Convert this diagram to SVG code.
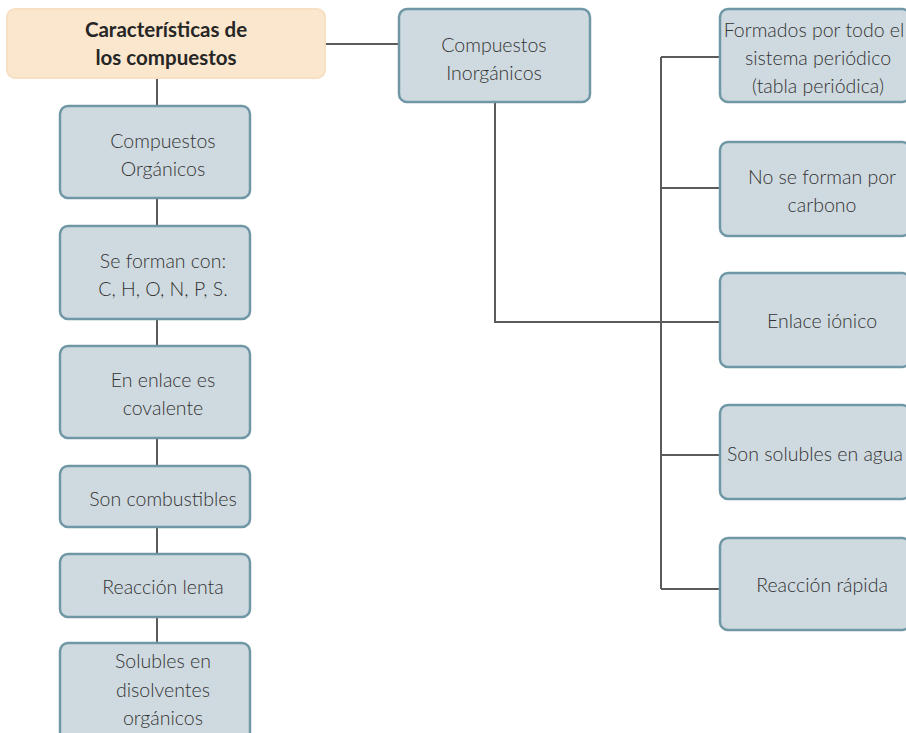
<svg xmlns="http://www.w3.org/2000/svg" width="906" height="733" viewBox="0 0 906 733">
<defs>
<style>
.box{fill:#cfdae0;stroke:#6f97a5;stroke-width:2.5}
.title{fill:#fbe7cd;stroke:#f6dfc3;stroke-width:2}
.t{font-family:Lato,"Open Sans","Liberation Sans",sans-serif;font-size:19.5px;font-weight:300;fill:#333;text-anchor:middle}
.tb{font-family:Lato,"Liberation Sans",sans-serif;font-size:20.5px;font-weight:700;fill:#262626;text-anchor:middle}
.c{stroke:#5b5b5b;stroke-width:2;fill:none}
</style>
</defs>
<g id="connectors">
<line class="c" x1="325" y1="44" x2="399" y2="44"/>
<line class="c" x1="157" y1="78" x2="157" y2="106"/>
<line class="c" x1="157" y1="198" x2="157" y2="226"/>
<line class="c" x1="157" y1="319" x2="157" y2="346"/>
<line class="c" x1="157" y1="438" x2="157" y2="466"/>
<line class="c" x1="157" y1="527" x2="157" y2="554"/>
<line class="c" x1="157" y1="617" x2="157" y2="643"/>
<polyline class="c" points="495,102 495,322 720,322"/>
<line class="c" x1="661" y1="57" x2="661" y2="589"/>
<line class="c" x1="661" y1="57" x2="720" y2="57"/>
<line class="c" x1="661" y1="188" x2="720" y2="188"/>
<line class="c" x1="661" y1="455" x2="720" y2="455"/>
<line class="c" x1="661" y1="589" x2="720" y2="589"/>
</g>
<g id="n-title">
<rect class="title" x="7" y="9" width="318" height="69" rx="8"/>
<text class="tb" x="166" y="37">Características de</text>
<text class="tb" x="166" y="65">los compuestos</text>
</g>
<g id="n-inorganicos">
<rect class="box" x="399" y="9" width="191" height="93" rx="8"/>
<text class="t" x="494" y="52">Compuestos</text>
<text class="t" x="494" y="80">Inorgánicos</text>
</g>
<g id="n-organicos">
<rect class="box" x="60" y="106" width="190" height="92" rx="8"/>
<text class="t" x="163" y="148">Compuestos</text>
<text class="t" x="163" y="176">Orgánicos</text>
</g>
<g id="n-seforman">
<rect class="box" x="60" y="226" width="190" height="93" rx="8"/>
<text class="t" x="163" y="268">Se forman con:</text>
<text class="t" x="163" y="296">C, H, O, N, P, S.</text>
</g>
<g id="n-enlace-cov">
<rect class="box" x="60" y="346" width="190" height="92" rx="8"/>
<text class="t" x="163" y="387">En enlace es</text>
<text class="t" x="163" y="415">covalente</text>
</g>
<g id="n-combustibles">
<rect class="box" x="60" y="466" width="190" height="61" rx="8"/>
<text class="t" x="163" y="506">Son combustibles</text>
</g>
<g id="n-lenta">
<rect class="box" x="60" y="554" width="190" height="63" rx="8"/>
<text class="t" x="163" y="594">Reacción lenta</text>
</g>
<g id="n-solubles-org">
<rect class="box" x="60" y="643" width="190" height="100" rx="8"/>
<text class="t" x="163" y="668">Solubles en</text>
<text class="t" x="163" y="697">disolventes</text>
<text class="t" x="163" y="725">orgánicos</text>
</g>
<g id="n-formados">
<rect class="box" x="720" y="9" width="190" height="93" rx="8"/>
<text class="t" x="814" y="37">Formados por todo el</text>
<text class="t" x="818" y="65">sistema periódico</text>
<text class="t" x="818" y="93">(tabla periódica)</text>
</g>
<g id="n-noseforman">
<rect class="box" x="720" y="142" width="190" height="94" rx="8"/>
<text class="t" x="822" y="184">No se forman por</text>
<text class="t" x="822" y="212">carbono</text>
</g>
<g id="n-ionico">
<rect class="box" x="720" y="273" width="190" height="94" rx="8"/>
<text class="t" x="822" y="328">Enlace iónico</text>
</g>
<g id="n-solubles-agua">
<rect class="box" x="720" y="405" width="190" height="94" rx="8"/>
<text class="t" x="815" y="461">Son solubles en agua</text>
</g>
<g id="n-rapida">
<rect class="box" x="720" y="538" width="190" height="92" rx="8"/>
<text class="t" x="822" y="592">Reacción rápida</text>
</g>
</svg>
